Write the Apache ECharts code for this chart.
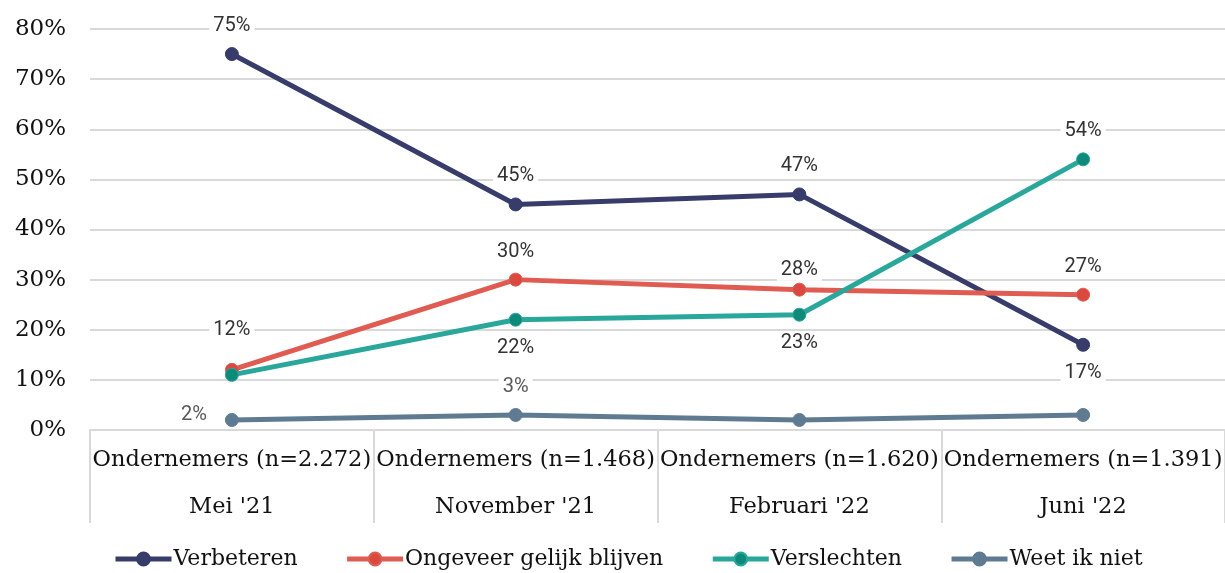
<!DOCTYPE html>
<html>
<head>
<meta charset="utf-8">
<script src="https://cdn.jsdelivr.net/npm/echarts@6/dist/echarts.min.js"></script>
<style>
  html, body { margin: 0; padding: 0; background: #fff; }
  #chart { width: 1225px; height: 573px; }
</style>
</head>
<body>
<div id="chart"></div>
<script>
// data
const months = ["Mei '21", "November '21", "Februari '22", "Juni '22"]
const sampleSizes = ['2.272', '1.468', '1.620', '1.391']
const verbeteren = [75, 45, 47, 17]
const gelijk = [12, 30, 28, 27]
const verslechten = [11, 22, 23, 54]
const weetNiet = [2, 3, 2, 3]
const yTicks = [0, 10, 20, 30, 40, 50, 60, 70, 80]

const serif = '"DejaVu Serif", serif'
const sans = 'Roboto, "Liberation Sans", sans-serif'

// label placement per point (null = no label)
const labelPos = {
  verbeteren: ['top', 'top', 'top', 'bottom'],
  gelijk: ['top', 'top', 'top', 'top'],
  verslechten: [null, 'bottom', 'bottom', 'top'],
  weetNiet: ['left', 'top', null, null],
}

function buildData(values, positions, extra) {
  return values.map((v, i) => {
    const p = positions[i]
    if (!p) return { value: v, label: { show: false } }
    return { value: v, label: Object.assign({ show: true, position: p }, extra && extra[i]) }
  })
}

const chart = echarts.init(document.getElementById('chart'))

const baseLabel = {
  formatter: '{c}%',
  fontFamily: sans,
  fontSize: 20,
  color: '#333',
  backgroundColor: '#fff',
  padding: [1, 4],
  distance: 10,
}

function makeSeries(name, values, positions, color, symbolColor, extra, labelColor) {
  return {
    name,
    type: 'line',
    data: buildData(values, positions, extra),
    symbol: 'circle',
    symbolSize: 13,
    lineStyle: { width: 5, color },
    itemStyle: { color: symbolColor, borderColor: color, borderWidth: 1 },
    label: Object.assign({}, baseLabel, labelColor ? { color: labelColor } : {}),
    z: 3,
  }
}

const option = {
  animation: false,
  grid: { left: 90, right: -5, top: 29, bottom: 143 },
  legend: {
    left: 108,
    bottom: -2,
    itemWidth: 56,
    itemHeight: 16,
    itemGap: 47,
    lineStyle: { width: 5 },
    textStyle: { fontFamily: serif, fontSize: 22, color: '#111', padding: [0, 0, 0, -3] },
    data: ['Verbeteren', 'Ongeveer gelijk blijven', 'Verslechten', 'Weet ik niet'],
  },
  xAxis: {
    type: 'category',
    boundaryGap: true,
    data: months,
    axisLine: { lineStyle: { color: '#d9d9d9', width: 2 } },
    axisTick: { show: true, interval: 0, length: 93, lineStyle: { color: '#d9d9d9', width: 2 } },
    axisLabel: {
      interval: 0,
      margin: 7,
      lineHeight: 47,
      fontFamily: serif,
      fontSize: 22.5,
      color: '#111',
      formatter: (v, i) => 'Ondernemers (n=' + sampleSizes[i] + ')\n' + v,
    },
  },
  yAxis: {
    type: 'value',
    min: yTicks[0],
    max: yTicks[yTicks.length - 1],
    interval: 10,
    axisLine: { show: false },
    axisTick: { show: false },
    splitLine: { lineStyle: { color: '#d9d9d9', width: 2 } },
    axisLabel: {
      margin: 24,
      formatter: '{value}%',
      fontFamily: serif,
      fontSize: 23,
      color: '#111',
    },
  },
  series: [
    makeSeries('Verbeteren', verbeteren, labelPos.verbeteren, '#383c6a', '#383c6a'),
    makeSeries('Ongeveer gelijk blijven', gelijk, labelPos.gelijk, '#e05c52', '#d9493f',
      [{ distance: 22 }, null, { distance: 2 }, null]),
    makeSeries('Verslechten', verslechten, labelPos.verslechten, '#2aa79b', '#0e8a7a'),
    makeSeries('Weet ik niet', weetNiet, labelPos.weetNiet, '#5f7b91', '#5f7b91',
      [{ distance: 14, offset: [0, -5] }, null, null, null], '#595959'),
  ],
}

chart.setOption(option)
</script>
</body>
</html>
